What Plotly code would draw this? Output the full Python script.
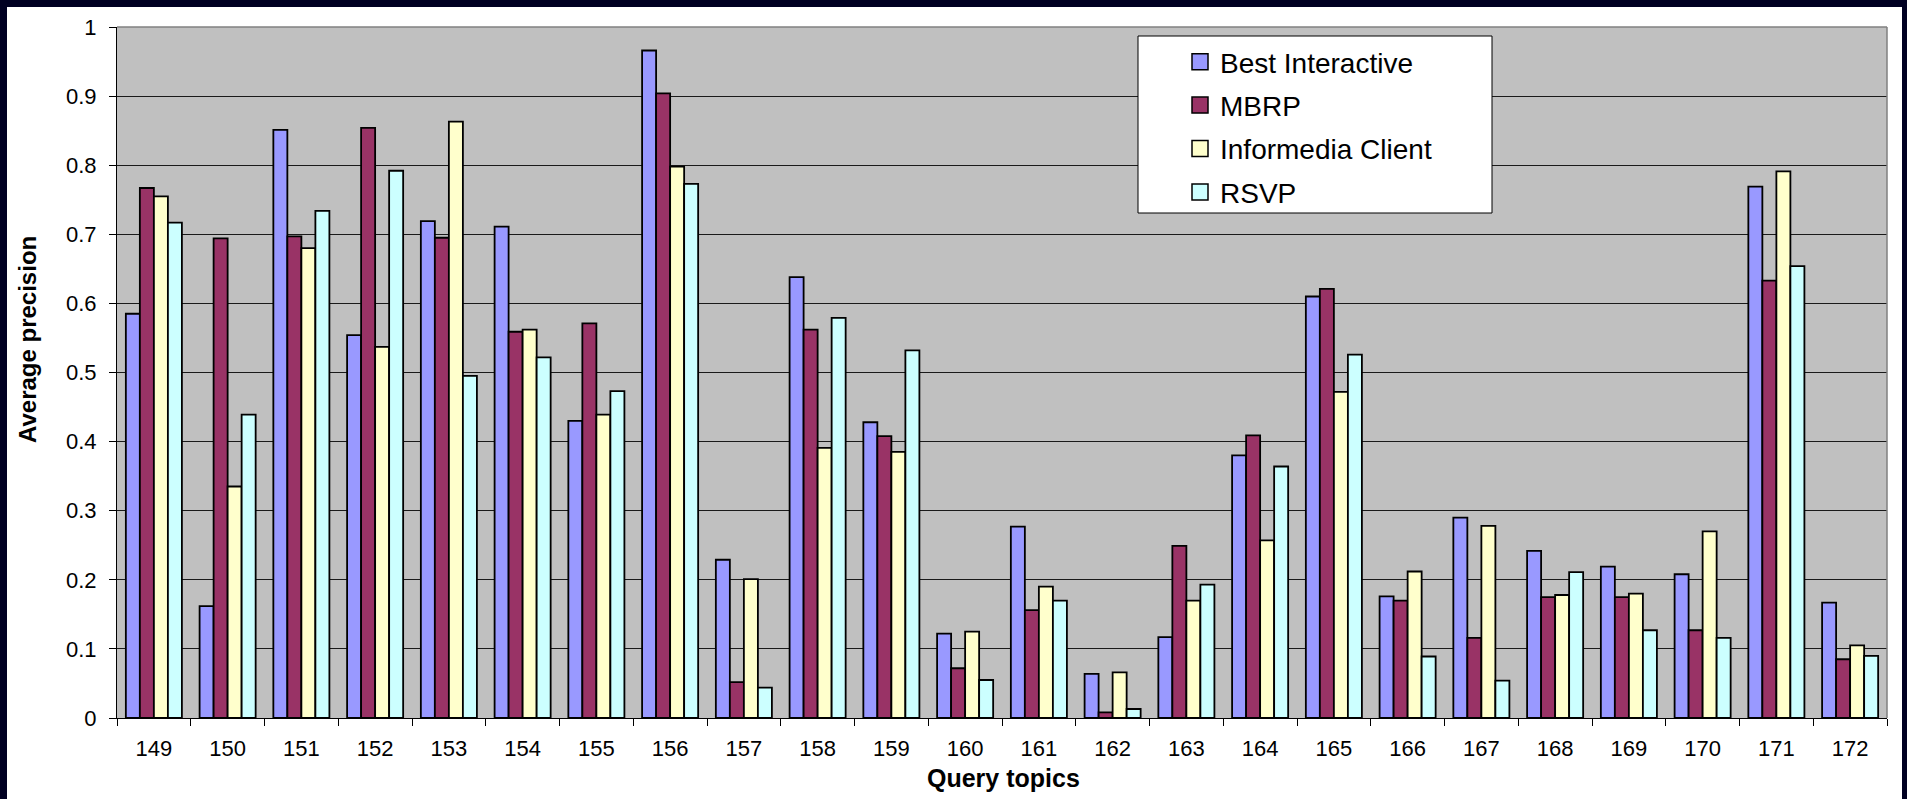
import plotly.graph_objects as go

# Query topics on the category axis
topics = ["149", "150", "151", "152", "153", "154", "155", "156", "157", "158", "159", "160",
          "161", "162", "163", "164", "165", "166", "167", "168", "169", "170", "171", "172"]

# Average precision per topic for each system
best_interactive = [0.585, 0.162, 0.851, 0.554, 0.719, 0.711, 0.430, 0.966, 0.229, 0.638, 0.428, 0.122,
                    0.277, 0.064, 0.117, 0.380, 0.610, 0.176, 0.290, 0.242, 0.219, 0.208, 0.769, 0.167]
mbrp = [0.767, 0.694, 0.697, 0.854, 0.695, 0.559, 0.571, 0.904, 0.052, 0.562, 0.408, 0.072,
        0.156, 0.008, 0.249, 0.409, 0.621, 0.170, 0.116, 0.175, 0.175, 0.127, 0.633, 0.085]
informedia_client = [0.755, 0.335, 0.680, 0.537, 0.863, 0.562, 0.439, 0.798, 0.201, 0.391, 0.385, 0.125,
                     0.190, 0.066, 0.170, 0.257, 0.472, 0.212, 0.278, 0.178, 0.180, 0.270, 0.791, 0.105]
rsvp = [0.717, 0.439, 0.734, 0.792, 0.495, 0.522, 0.473, 0.773, 0.044, 0.579, 0.532, 0.055,
        0.170, 0.013, 0.193, 0.364, 0.526, 0.089, 0.054, 0.211, 0.127, 0.116, 0.654, 0.090]

series = [
    ("Best Interactive", best_interactive, "#9999ff"),
    ("MBRP", mbrp, "#993366"),
    ("Informedia Client", informedia_client, "#ffffcc"),
    ("RSVP", rsvp, "#ccffff"),
]

# Page geometry (pixels)
W, H = 1907, 799
L, R, T, B = 117, 20, 27, 81
PW, PH = W - L - R, H - T - B
NAVY = "#000022"
FONT = "Liberation Sans, Arial, sans-serif"


def px_x(px):
    return (px - L) / PW


def px_y(py):
    return (H - B - py) / PH


fig = go.Figure()
for i, (name, vals, color) in enumerate(series):
    fig.add_trace(go.Bar(
        name=name, x=topics, y=vals, showlegend=False,
        marker=dict(color=color, line=dict(color="black", width=1.8)),
    ))

# square legend keys
for i, (name, vals, color) in enumerate(series):
    fig.add_trace(go.Scatter(
        name=name, x=[None], y=[None], mode="markers", legendgroup=f"g{i}",
        marker=dict(symbol="square", size=16, color=color, line=dict(color="black", width=1.5)),
    ))

shapes = [
    # legend frame
    dict(type="rect", xref="paper", yref="paper",
         x0=px_x(1138), x1=px_x(1492), y0=px_y(213), y1=px_y(36),
         fillcolor="white", line=dict(color="black", width=1), layer="above"),
    # top and right edges of the plot area
    dict(type="line", xref="paper", yref="paper", x0=0, x1=1, y0=1, y1=1,
         line=dict(color="#808080", width=1.5)),
    dict(type="line", xref="paper", yref="paper", x0=1, x1=1, y0=0, y1=1,
         line=dict(color="#808080", width=1.5)),
    # dark frame around the page
    dict(type="rect", xref="paper", yref="paper", x0=px_x(0), x1=px_x(W), y0=px_y(7), y1=px_y(0),
         fillcolor=NAVY, line=dict(width=0)),
    dict(type="rect", xref="paper", yref="paper", x0=px_x(0), x1=px_x(7), y0=px_y(H), y1=px_y(0),
         fillcolor=NAVY, line=dict(width=0)),
    dict(type="rect", xref="paper", yref="paper", x0=px_x(1902), x1=px_x(W), y0=px_y(H), y1=px_y(0),
         fillcolor=NAVY, line=dict(width=0)),
]

annotations = [
    dict(text="<b>Query topics</b>", xref="paper", yref="paper", x=px_x(1003), y=px_y(778),
         xanchor="center", yanchor="middle", showarrow=False, font=dict(size=25, color="black", family=FONT)),
    dict(text="<b>Average precision</b>", xref="paper", yref="paper", x=px_x(27), y=px_y(340),
         xanchor="center", yanchor="middle", textangle=-90, showarrow=False,
         font=dict(size=24, color="black", family=FONT)),
]

fig.update_layout(
    width=W, height=H,
    margin=dict(l=L, r=R, t=T, b=B, pad=0),
    paper_bgcolor="white",
    plot_bgcolor="#c0c0c0",
    font=dict(family=FONT, size=22, color="black"),
    barmode="group", bargap=0.24, bargroupgap=0,
    showlegend=True,
    legend=dict(x=px_x(1180), y=px_y(37), xanchor="left", yanchor="top",
                bgcolor="rgba(0,0,0,0)", borderwidth=0, tracegroupgap=4,
                font=dict(size=28, family=FONT, color="black")),
    shapes=shapes,
    annotations=annotations,
    xaxis=dict(type="category", tickson="boundaries", ticks="outside", ticklen=7,
               tickcolor="black", showgrid=False, showline=True, linecolor="black",
               linewidth=1, ticklabelstandoff=11, tickfont=dict(size=22)),
    yaxis=dict(range=[0, 1], tick0=0, dtick=0.1, ticks="outside", ticklen=7, tickcolor="black",
               showgrid=True, gridcolor="#1a1a1a", gridwidth=1.4, showline=True,
               linecolor="black", linewidth=1, zeroline=False, ticklabelstandoff=8,
               tickfont=dict(size=22)),
)

fig.write_html("out.html")
